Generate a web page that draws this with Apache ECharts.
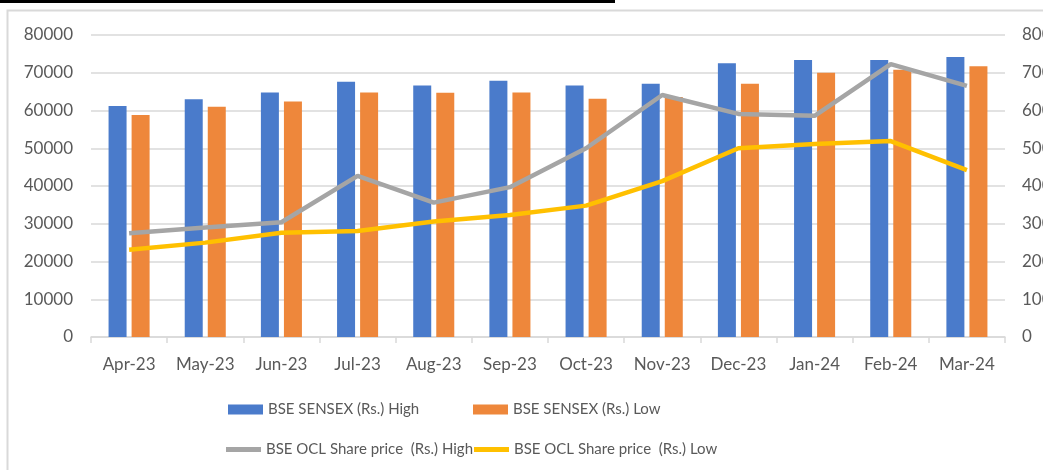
<!DOCTYPE html>
<html>
<head>
<meta charset="utf-8">
<script src="https://cdn.jsdelivr.net/npm/echarts@6/dist/echarts.min.js"></script>
<style>
  html, body { margin: 0; padding: 0; background: #fff; }
  #chart { width: 1043px; height: 470px; }
</style>
</head>
<body>
<div id="chart"></div>
<script>
const months = ['Apr-23', 'May-23', 'Jun-23', 'Jul-23', 'Aug-23', 'Sep-23', 'Oct-23', 'Nov-23', 'Dec-23', 'Jan-24', 'Feb-24', 'Mar-24'];
const sensexHigh = [61200, 63000, 64800, 67600, 66600, 67900, 66600, 67100, 72500, 73400, 73400, 74200];
const sensexLow = [58800, 61000, 62400, 64800, 64700, 64800, 63100, 63600, 67100, 70000, 70800, 71700];
const oclHigh = [275, 290, 304, 427, 356, 397, 500, 641, 591, 586, 723, 665];
const oclLow = [231, 250, 276, 281, 306, 323, 348, 413, 500, 511, 519, 442];

const names = ['BSE SENSEX (Rs.) High', 'BSE SENSEX (Rs.) Low', 'BSE OCL Share price  (Rs.) High', 'BSE OCL Share price  (Rs.) Low'];
const colors = ['#4A7BCB', '#EE873B', '#A5A5A5', '#FFC000'];

const font = 'Lato, "Open Sans", sans-serif';
const gridColor = '#D9D9D9';
const labelColor = '#595959';

// one legend block per item so each sits where the reference has it
const legendPos = [[228, 402, 10], [473, 402, 10], [226, 442, 5], [474, 442, 5]];
const legends = names.map((n, i) => ({
  left: legendPos[i][0], top: legendPos[i][1],
  padding: 0,
  itemWidth: 35, itemHeight: legendPos[i][2],
  icon: 'rect',
  textStyle: { color: labelColor, fontSize: 15, fontFamily: font },
  data: [n]
}));

const chart = echarts.init(document.getElementById('chart'));

chart.setOption({
  animation: false,
  color: colors,
  textStyle: { fontFamily: font },
  graphic: [
    { type: 'rect', shape: { x: 7.5, y: 10.5, width: 1200, height: 600 }, style: { fill: null, stroke: gridColor, lineWidth: 2 }, silent: true },
    { type: 'rect', shape: { x: 0, y: 0, width: 615, height: 3 }, style: { fill: '#000' }, silent: true }
  ],
  grid: { left: 91, right: 38, top: 35, bottom: 133, containLabel: false, outerBoundsMode: 'none' },
  legend: legends,
  xAxis: {
    type: 'category',
    data: months,
    axisLine: { lineStyle: { color: gridColor, width: 1.5 } },
    axisTick: { show: true, length: 6, lineStyle: { color: gridColor, width: 1.5 } },
    axisLabel: { color: labelColor, fontSize: 17, margin: 19, interval: 0 }
  },
  yAxis: [
    {
      type: 'value', min: 0, max: 80000, interval: 10000,
      axisLine: { show: false },
      splitLine: { lineStyle: { color: gridColor, width: 1.5 } },
      axisLabel: { color: labelColor, fontSize: 17, margin: 18, formatter: v => String(v) }
    },
    {
      type: 'value', min: 0, max: 800, interval: 100,
      axisLine: { show: false },
      splitLine: { show: false },
      axisLabel: { color: labelColor, fontSize: 17, margin: 17, align: 'left', formatter: v => String(v) }
    }
  ],
  series: [
    { name: names[0], type: 'bar', data: sensexHigh, barWidth: 18, barGap: '28%', itemStyle: { color: colors[0] } },
    { name: names[1], type: 'bar', data: sensexLow, barWidth: 18, barGap: '28%', itemStyle: { color: colors[1] } },
    { name: names[2], type: 'line', yAxisIndex: 1, data: oclHigh, symbol: 'none', lineStyle: { color: colors[2], width: 4.5 }, itemStyle: { color: colors[2] } },
    { name: names[3], type: 'line', yAxisIndex: 1, data: oclLow, symbol: 'none', lineStyle: { color: colors[3], width: 4.5 }, itemStyle: { color: colors[3] } }
  ]
});
</script>
</body>
</html>
